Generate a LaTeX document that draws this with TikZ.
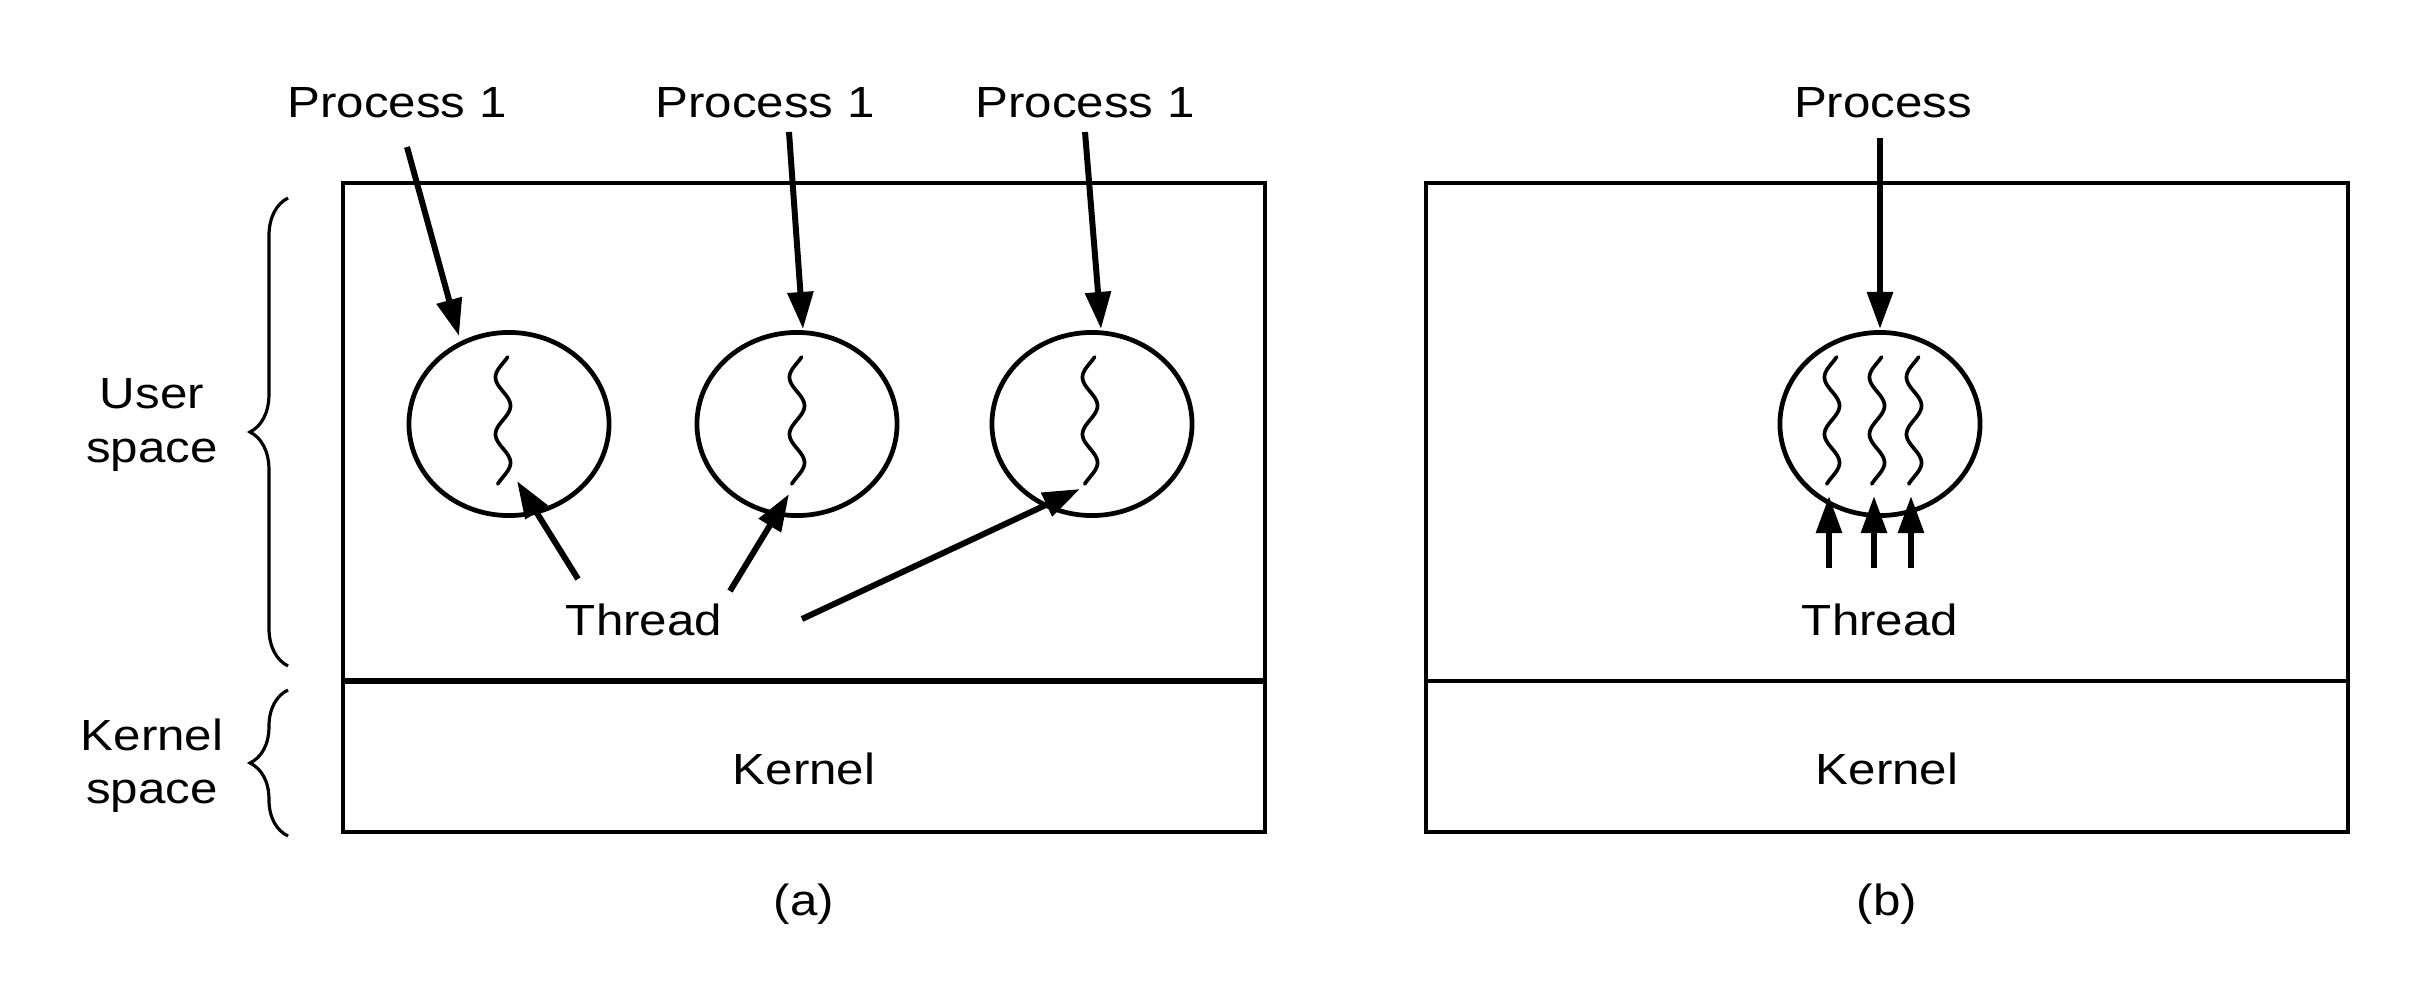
\documentclass[tikz,border=0pt]{standalone}
\usepackage{fontspec}
\setmainfont[FakeStretch=1.13]{Liberation Sans}
\usetikzlibrary{arrows.meta,shapes.geometric,decorations.pathreplacing}
\newcommand\thr[2]{\draw[wave] plot[variable=\t, domain=0:127, samples=90, smooth] ({#1-7.5*sin(6.3158*(\t-6))},{#2+\t});}
\begin{document}
\begin{tikzpicture}[x=0.01cm,y=-0.01cm,
  lbl/.style={inner sep=0pt, font=\fontsize{12.4}{15.1}\selectfont},
  two/.style={lbl, align=center},
  boxline/.style={line width=1.35pt},
  proc/.style={draw, ellipse, line width=1.35pt, minimum width=2.0cm, minimum height=1.83cm, inner sep=0pt},
  arr/.style={line width=1.7pt, -{Triangle[length=0.37cm,width=0.25cm]}},
  wave/.style={line width=1.05pt, line join=round, line cap=round},
  brc/.style={line width=0.9pt, decorate, decoration={brace, amplitude=0.38cm}}
]
\useasboundingbox (0,0) rectangle (2414,1000);
\fill[white] (0,0) rectangle (2414,1000);

% ---------- (a) ----------
\draw[boxline] (343,183) rectangle (1265,832);
\draw[line width=1.8pt] (343,681) -- (1265,681);

\node[proc] (c1) at (509,424) {};
\node[proc] (c2) at (797,424) {};
\node[proc] (c3) at (1092,424) {};
\thr{503}{357}
\thr{797}{357}
\thr{1090}{357}

\node[lbl, anchor=base] (p1) at (397,117) {Process 1};
\node[lbl, anchor=base] (p2) at (765,117) {Process 1};
\node[lbl, anchor=base] (p3) at (1085,117) {Process 1};

\coordinate (p1s) at (407,147);  \coordinate (p1t) at (459,336);
\coordinate (p2s) at (789,132);  \coordinate (p2t) at (803,329);
\coordinate (p3s) at (1085,132); \coordinate (p3t) at (1101,329);
\draw[arr] (p1s) -- (p1t);
\draw[arr] (p2s) -- (p2t);
\draw[arr] (p3s) -- (p3t);

\node[lbl, anchor=base] (ta) at (644,635) {Thread};
\coordinate (t1s) at (578,579); \coordinate (t1t) at (517,481);
\coordinate (t2s) at (730,591); \coordinate (t2t) at (789,494);
\coordinate (t3s) at (802,619); \coordinate (t3t) at (1080,489);
\draw[arr] (t1s) -- (t1t);
\draw[arr] (t2s) -- (t2t);
\draw[arr] (t3s) -- (t3t);

\node[lbl, anchor=base] (ka) at (804,784) {Kernel};
\node[lbl, anchor=base] (la) at (804,915) {(a)};

% braces
\node[two] (us) at (152,425) {User\\space};
\node[two] (ks) at (152,766) {Kernel\\space};
\coordinate (ub1) at (288,666); \coordinate (ub2) at (288,198);
\coordinate (kb1) at (288,836); \coordinate (kb2) at (288,690);
\draw[brc] (ub1) -- (ub2);
\draw[brc] (kb1) -- (kb2);

% ---------- (b) ----------
\draw[boxline] (1426,183) rectangle (2348,832);
\draw[line width=1.0pt] (1426,681) -- (2348,681);

\node[proc] (cb) at (1880,424) {};
\thr{1832}{357}
\thr{1877}{357}
\thr{1914}{357}

\node[lbl, anchor=base] (pb) at (1883,117) {Process};
\coordinate (pbs) at (1880,138); \coordinate (pbt) at (1880,329);
\draw[arr] (pbs) -- (pbt);

\node[lbl, anchor=base] (tb) at (1880,635) {Thread};
\foreach \i/\xx in {1/1829,2/1874,3/1911}{
  \coordinate (bs\i) at (\xx,568);
  \coordinate (bt\i) at (\xx,496);
  \draw[arr] (bs\i) -- (bt\i);
}

\node[lbl, anchor=base] (kb) at (1887,784) {Kernel};
\node[lbl, anchor=base] (lb) at (1887,915) {(b)};
\end{tikzpicture}
\end{document}
